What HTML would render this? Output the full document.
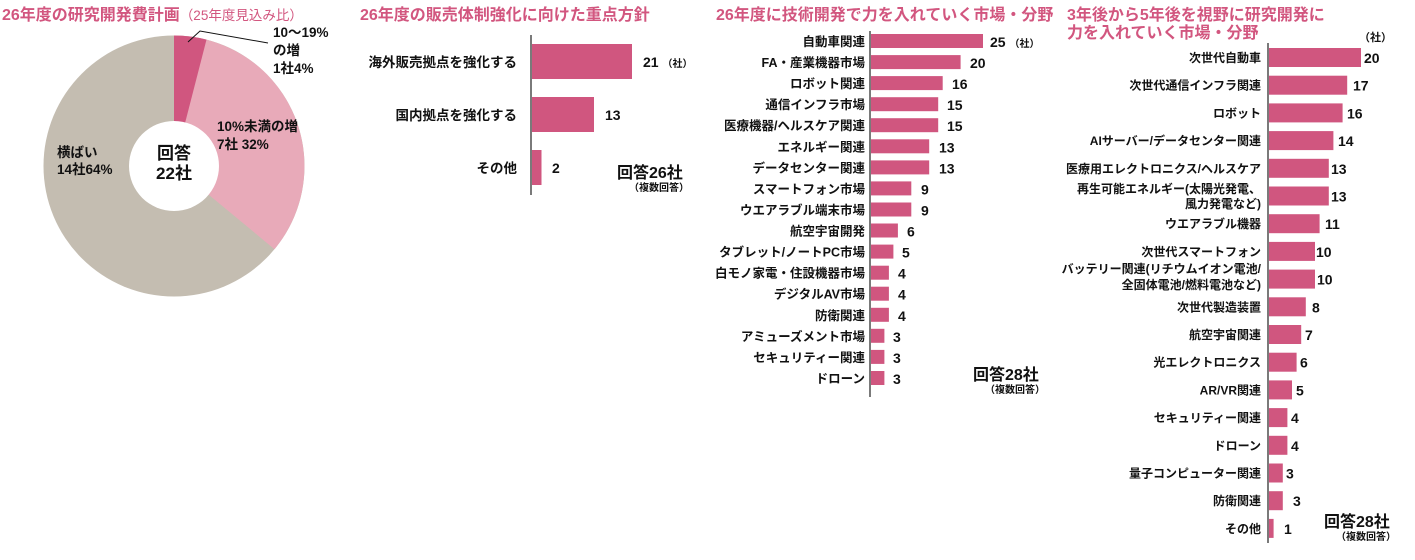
<!DOCTYPE html>
<html><head><meta charset="utf-8"><style>
html,body{margin:0;padding:0;background:#fff;}
svg{display:block;font-family:"Liberation Sans","Noto Sans CJK JP",sans-serif;}
.t{fill:#d2567f;font-size:16px;font-weight:bold;}
.l{font-size:12.5px;font-weight:bold;fill:#111;text-anchor:end;}
.l2{font-size:13.5px;font-weight:bold;fill:#111;text-anchor:end;}
.l4{font-size:12px;font-weight:bold;fill:#111;text-anchor:end;}
.v{font-size:14px;font-weight:bold;fill:#111;}
.b{fill:#d0567f;}
</style></head><body>
<svg width="1415" height="560" viewBox="0 0 1415 560">
<!-- Chart 1 -->
<text x="2" y="20" class="t">26年度の研究開発費計画<tspan font-size="13.5" font-weight="normal">（25年度見込み比）</tspan></text>
<circle cx="174" cy="166" r="130.5" fill="#c4bdb1"/>
<path d="M174 166 L174 35.5 A130.5 130.5 0 0 1 274.5 249.2 Z" fill="#e8aab9"/>
<path d="M174 166 L174 35.5 A130.5 130.5 0 0 1 206.5 39.6 Z" fill="#d0567f"/>
<circle cx="174" cy="166" r="45" fill="#fff"/>
<polyline points="188,42 200,31 268,43" fill="none" stroke="#111" stroke-width="1"/>
<g font-size="13.5" font-weight="bold" fill="#111">
<text x="273" y="37">10〜19%</text>
<text x="273" y="55">の増</text>
<text x="273" y="73">1社4%</text>
<text x="217" y="131">10%未満の増</text>
<text x="217" y="149">7社 32%</text>
<text x="57" y="157">横ばい</text>
<text x="57" y="174">14社64%</text>
<text x="174" y="159" font-size="17" text-anchor="middle">回答</text>
<text x="174" y="179" font-size="17" text-anchor="middle">22社</text>
</g>
<!-- Chart 2 -->
<text x="360" y="20" class="t">26年度の販売体制強化に向けた重点方針</text>
<line x1="531" y1="35" x2="531" y2="195" stroke="#333" stroke-width="1.3"/>
<rect class="b" x="532" y="44" width="100" height="35"/>
<rect class="b" x="532" y="97" width="62" height="35"/>
<rect class="b" x="532" y="150" width="9.5" height="35"/>
<text class="l2" x="517" y="67">海外販売拠点を強化する</text>
<text class="l2" x="517" y="120">国内拠点を強化する</text>
<text class="l2" x="517" y="173">その他</text>
<text class="v" x="643" y="67">21 <tspan font-size="10">（社）</tspan></text>
<text class="v" x="605" y="120">13</text>
<text class="v" x="552" y="173">2</text>
<text x="617" y="178" font-size="16" font-weight="bold" fill="#111">回答26社</text>
<text x="629" y="191" font-size="10" font-weight="bold" fill="#111">（複数回答）</text>
<!-- Chart 3 -->
<text x="716" y="20" class="t">26年度に技術開発で力を入れていく市場・分野</text>
<line x1="870" y1="31" x2="870" y2="397" stroke="#333" stroke-width="1.3"/>
<g>
<rect class="b" x="871" y="34" width="112" height="14"/><text class="l" x="865" y="46">自動車関連</text><text class="v" x="990" y="47">25 <tspan font-size="10">（社）</tspan></text>
<rect class="b" x="871" y="55.1" width="89.6" height="14"/><text class="l" x="865" y="67.1">FA・産業機器市場</text><text class="v" x="970" y="68.1">20</text>
<rect class="b" x="871" y="76.1" width="71.7" height="14"/><text class="l" x="865" y="88.1">ロボット関連</text><text class="v" x="952" y="89.1">16</text>
<rect class="b" x="871" y="97.2" width="67.2" height="14"/><text class="l" x="865" y="109.2">通信インフラ市場</text><text class="v" x="947" y="110.2">15</text>
<rect class="b" x="871" y="118.2" width="67.2" height="14"/><text class="l" x="865" y="130.2">医療機器/ヘルスケア関連</text><text class="v" x="947" y="131.2">15</text>
<rect class="b" x="871" y="139.3" width="58.2" height="14"/><text class="l" x="865" y="151.3">エネルギー関連</text><text class="v" x="939" y="152.3">13</text>
<rect class="b" x="871" y="160.4" width="58.2" height="14"/><text class="l" x="865" y="172.4">データセンター関連</text><text class="v" x="939" y="173.4">13</text>
<rect class="b" x="871" y="181.4" width="40.3" height="14"/><text class="l" x="865" y="193.4">スマートフォン市場</text><text class="v" x="921" y="194.4">9</text>
<rect class="b" x="871" y="202.5" width="40.3" height="14"/><text class="l" x="865" y="214.5">ウエアラブル端末市場</text><text class="v" x="921" y="215.5">9</text>
<rect class="b" x="871" y="223.5" width="26.9" height="14"/><text class="l" x="865" y="235.5">航空宇宙開発</text><text class="v" x="907" y="236.5">6</text>
<rect class="b" x="871" y="244.6" width="22.4" height="14"/><text class="l" x="865" y="256.6">タブレット/ノートPC市場</text><text class="v" x="902" y="257.6">5</text>
<rect class="b" x="871" y="265.7" width="17.9" height="14"/><text class="l" x="865" y="277.7">白モノ家電・住設機器市場</text><text class="v" x="898" y="278.7">4</text>
<rect class="b" x="871" y="286.7" width="17.9" height="14"/><text class="l" x="865" y="298.7">デジタルAV市場</text><text class="v" x="898" y="299.7">4</text>
<rect class="b" x="871" y="307.8" width="17.9" height="14"/><text class="l" x="865" y="319.8">防衛関連</text><text class="v" x="898" y="320.8">4</text>
<rect class="b" x="871" y="328.8" width="13.4" height="14"/><text class="l" x="865" y="340.8">アミューズメント市場</text><text class="v" x="893" y="341.8">3</text>
<rect class="b" x="871" y="349.9" width="13.4" height="14"/><text class="l" x="865" y="361.9">セキュリティー関連</text><text class="v" x="893" y="362.9">3</text>
<rect class="b" x="871" y="371" width="13.4" height="14"/><text class="l" x="865" y="383">ドローン</text><text class="v" x="893" y="384">3</text>
</g>
<text x="973" y="380" font-size="16" font-weight="bold" fill="#111">回答28社</text>
<text x="985" y="393" font-size="10" font-weight="bold" fill="#111">（複数回答）</text>
<!-- Chart 4 -->
<text x="1067" y="20" class="t">3年後から5年後を視野に研究開発に</text>
<text x="1067" y="38" class="t">力を入れていく市場・分野</text>
<text x="1359" y="41" font-size="11" font-weight="bold" fill="#111">（社）</text>
<line x1="1268" y1="43" x2="1268" y2="543" stroke="#333" stroke-width="1.3"/>
<g>
<rect class="b" x="1269" y="48" width="92" height="19"/><text class="l4" x="1261" y="62">次世代自動車</text><text class="v" x="1364" y="63">20</text>
<rect class="b" x="1269" y="75.7" width="78.2" height="19"/><text class="l4" x="1261" y="89.7">次世代通信インフラ関連</text><text class="v" x="1353" y="90.7">17</text>
<rect class="b" x="1269" y="103.4" width="73.6" height="19"/><text class="l4" x="1261" y="117.4">ロボット</text><text class="v" x="1347" y="118.4">16</text>
<rect class="b" x="1269" y="131.1" width="64.4" height="19"/><text class="l4" x="1261" y="145.1">AIサーバー/データセンター関連</text><text class="v" x="1338" y="146.1">14</text>
<rect class="b" x="1269" y="158.8" width="59.8" height="19"/><text class="l4" x="1261" y="172.8">医療用エレクトロニクス/ヘルスケア</text><text class="v" x="1331" y="173.8">13</text>
<rect class="b" x="1269" y="186.5" width="59.8" height="19"/><text class="l4" x="1261" y="193">再生可能エネルギー(太陽光発電、</text><text class="l4" x="1261" y="208">風力発電など)</text><text class="v" x="1331" y="201.5">13</text>
<rect class="b" x="1269" y="214.2" width="50.6" height="19"/><text class="l4" x="1261" y="228.2">ウエアラブル機器</text><text class="v" x="1325" y="229.2">11</text>
<rect class="b" x="1269" y="241.9" width="46" height="19"/><text class="l4" x="1261" y="255.9">次世代スマートフォン</text><text class="v" x="1316" y="256.9">10</text>
<rect class="b" x="1269" y="269.6" width="46" height="19"/><text class="l4" x="1261" y="273">バッテリー関連(リチウムイオン電池/</text><text class="l4" x="1261" y="289">全固体電池/燃料電池など)</text><text class="v" x="1317" y="284.6">10</text>
<rect class="b" x="1269" y="297.3" width="36.8" height="19"/><text class="l4" x="1261" y="311.3">次世代製造装置</text><text class="v" x="1312" y="312.3">8</text>
<rect class="b" x="1269" y="325" width="32.2" height="19"/><text class="l4" x="1261" y="339">航空宇宙関連</text><text class="v" x="1305" y="340">7</text>
<rect class="b" x="1269" y="352.7" width="27.6" height="19"/><text class="l4" x="1261" y="366.7">光エレクトロニクス</text><text class="v" x="1300" y="367.7">6</text>
<rect class="b" x="1269" y="380.4" width="23" height="19"/><text class="l4" x="1261" y="394.4">AR/VR関連</text><text class="v" x="1296" y="395.4">5</text>
<rect class="b" x="1269" y="408.1" width="18.4" height="19"/><text class="l4" x="1261" y="422.1">セキュリティー関連</text><text class="v" x="1291" y="423.1">4</text>
<rect class="b" x="1269" y="435.8" width="18.4" height="19"/><text class="l4" x="1261" y="449.8">ドローン</text><text class="v" x="1291" y="450.8">4</text>
<rect class="b" x="1269" y="463.5" width="13.8" height="19"/><text class="l4" x="1261" y="477.5">量子コンピューター関連</text><text class="v" x="1286" y="478.5">3</text>
<rect class="b" x="1269" y="491.2" width="13.8" height="19"/><text class="l4" x="1261" y="505.2">防衛関連</text><text class="v" x="1293" y="506.2">3</text>
<rect class="b" x="1269" y="518.9" width="4.6" height="19"/><text class="l4" x="1261" y="532.9">その他</text><text class="v" x="1284" y="533.9">1</text>
</g>
<text x="1324" y="527" font-size="16" font-weight="bold" fill="#111">回答28社</text>
<text x="1336" y="540" font-size="10" font-weight="bold" fill="#111">（複数回答）</text>
</svg>
</body></html>
